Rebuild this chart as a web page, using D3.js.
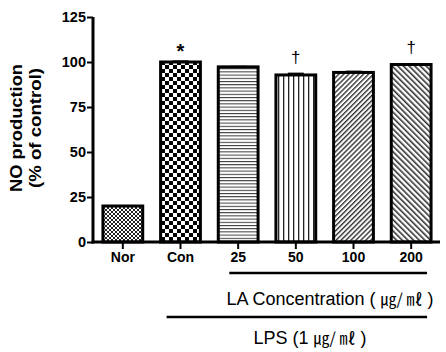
<!DOCTYPE html>
<html>
<head>
<meta charset="utf-8">
<script src="https://cdn.jsdelivr.net/npm/d3@7"></script>
<style>
  body { margin: 0; background: #fff; }
  text { font-family: "Liberation Sans", Arial, sans-serif; font-weight: bold; }
  .cjk { font-family: "Noto Sans CJK KR", "Noto Sans CJK SC", sans-serif; }
</style>
</head>
<body>
<div id="chart"></div>
<script>
// data
const groups = ["Nor", "Con", "25", "50", "100", "200"]
const values = [20, 100, 97.3, 92.8, 94.2, 98.6]
const errors = [0, 0.9, 0.6, 1.3, 1.0, 0.8]
const marks = ["", "*", "", "†", "", "†"]
const yTicks = [0, 25, 50, 75, 100, 125]
const patterns = ["fineChecker", "checker", "hLines", "vLines", "diagUp", "diagDown"]

const width = 446
const height = 352
const margin = { top: 17, right: 6, bottom: 110, left: 93 }
const boundedWidth = width - margin.left - margin.right
const boundedHeight = height - margin.top - margin.bottom

const svg = d3.select("#chart").append("svg")
  .attr("width", width)
  .attr("height", height)

// fill patterns
const defs = svg.append("defs")

const fineChecker = defs.append("pattern").attr("id", "fineChecker")
  .attr("patternUnits", "userSpaceOnUse").attr("width", 4).attr("height", 4)
fineChecker.append("rect").attr("width", 4).attr("height", 4).attr("fill", "#fff")
fineChecker.append("rect").attr("width", 2).attr("height", 2).attr("fill", "#222")
fineChecker.append("rect").attr("x", 2).attr("y", 2).attr("width", 2).attr("height", 2).attr("fill", "#222")

const checker = defs.append("pattern").attr("id", "checker")
  .attr("patternUnits", "userSpaceOnUse").attr("width", 8).attr("height", 8)
checker.append("rect").attr("width", 8).attr("height", 8).attr("fill", "#fff")
checker.append("rect").attr("width", 4).attr("height", 4).attr("fill", "#000")
checker.append("rect").attr("x", 4).attr("y", 4).attr("width", 4).attr("height", 4).attr("fill", "#000")

const hLines = defs.append("pattern").attr("id", "hLines")
  .attr("patternUnits", "userSpaceOnUse").attr("width", 4).attr("height", 3.2)
hLines.append("rect").attr("width", 4).attr("height", 3.2).attr("fill", "#fff")
hLines.append("rect").attr("width", 4).attr("height", 1).attr("fill", "#333")

const vLines = defs.append("pattern").attr("id", "vLines")
  .attr("patternUnits", "userSpaceOnUse").attr("width", 5).attr("height", 4)
vLines.append("rect").attr("width", 5).attr("height", 4).attr("fill", "#fff")
vLines.append("rect").attr("width", 1.3).attr("height", 4).attr("fill", "#222")

const diagUp = defs.append("pattern").attr("id", "diagUp")
  .attr("patternUnits", "userSpaceOnUse").attr("width", 3.5).attr("height", 3.5)
  .attr("patternTransform", "rotate(45)")
diagUp.append("rect").attr("width", 3.5).attr("height", 3.5).attr("fill", "#fff")
diagUp.append("rect").attr("width", 1.4).attr("height", 3.5).attr("fill", "#333")

const diagDown = defs.append("pattern").attr("id", "diagDown")
  .attr("patternUnits", "userSpaceOnUse").attr("width", 4).attr("height", 4)
  .attr("patternTransform", "rotate(-45)")
diagDown.append("rect").attr("width", 4).attr("height", 4).attr("fill", "#fff")
diagDown.append("rect").attr("width", 1.6).attr("height", 4).attr("fill", "#333")

const bounds = svg.append("g")
  .attr("transform", `translate(${margin.left}, ${margin.top})`)

const xScale = d3.scaleBand()
  .domain(groups)
  .range([1, boundedWidth])
  .paddingInner(0.31)
  .paddingOuter(0.155)

const yScale = d3.scaleLinear()
  .domain([0, 125])
  .range([boundedHeight, 0])

// bars
const rows = groups.map((g, i) => ({ g, v: values[i], e: errors[i], m: marks[i], p: patterns[i] }))

bounds.selectAll(".err")
  .data(rows.filter(d => d.e > 0))
  .join("rect")
    .attr("class", "err")
    .attr("x", d => xScale(d.g) + xScale.bandwidth() * 0.3)
    .attr("y", d => yScale(d.v + d.e))
    .attr("width", xScale.bandwidth() * 0.4)
    .attr("height", d => yScale(d.v) - yScale(d.v + d.e) + 1)
    .attr("fill", "#000")

bounds.selectAll(".bar")
  .data(rows)
  .join("rect")
    .attr("class", "bar")
    .attr("x", d => xScale(d.g))
    .attr("y", d => yScale(d.v))
    .attr("width", xScale.bandwidth())
    .attr("height", d => boundedHeight - yScale(d.v))
    .attr("fill", d => `url(#${d.p})`)
    .attr("stroke", "#000")
    .attr("stroke-width", 3)

bounds.selectAll(".mark")
  .data(rows.filter(d => d.m))
  .join("text")
    .attr("class", "mark")
    .attr("x", d => xScale(d.g) + xScale.bandwidth() / 2)
    .attr("y", d => yScale(d.v + d.e) - (d.m === "*" ? 17 : 10))
    .attr("text-anchor", "middle")
    .attr("dominant-baseline", d => d.m === "*" ? "hanging" : "auto")
    .style("font-size", d => d.m === "*" ? "20px" : "17px")
    .style("font-weight", d => d.m === "*" ? "bold" : "normal")
    .text(d => d.m)

// axes
const yAxis = bounds.append("g")
  .call(d3.axisLeft(yScale).tickValues(yTicks).tickSize(6).tickPadding(1))
yAxis.select(".domain").attr("stroke-width", 3).attr("d", `M0,${boundedHeight + 1.5}V0`)
yAxis.selectAll(".tick line").attr("stroke-width", 2)
yAxis.selectAll(".tick text").style("font-size", "14.5px").style("font-family", "Liberation Sans, Arial, sans-serif").style("font-weight", "bold").attr("fill", "#000")

const xAxis = bounds.append("g")
  .attr("transform", `translate(0, ${boundedHeight})`)
  .call(d3.axisBottom(xScale).tickSize(7).tickPadding(3))
xAxis.select(".domain").attr("stroke-width", 3).attr("d", `M-1.5,0H${boundedWidth}`)
xAxis.selectAll(".tick line").attr("stroke-width", 2)
xAxis.selectAll(".tick text").style("font-size", "14px").style("font-family", "Liberation Sans, Arial, sans-serif").style("font-weight", "bold").attr("fill", "#000")

// y title
const yTitle = svg.append("text")
  .attr("transform", `translate(22, 128) rotate(-90)`)
  .attr("text-anchor", "middle")
  .style("font-size", "17px")
yTitle.append("tspan").attr("x", 0).attr("dy", 0)
  .attr("textLength", 128).attr("lengthAdjust", "spacingAndGlyphs").text("NO production")
yTitle.append("tspan").attr("x", 0).attr("dy", 19)
  .attr("textLength", 120).attr("lengthAdjust", "spacingAndGlyphs").text("(% of control)")

// group brackets
const firstLA = xScale("25") + margin.left + 11
const lastX = xScale("200") + xScale.bandwidth() + margin.left - 4
svg.append("line")
  .attr("x1", firstLA).attr("x2", lastX)
  .attr("y1", 273).attr("y2", 273)
  .attr("stroke", "#000").attr("stroke-width", 2.5)
const laLabel = svg.append("text")
  .attr("x", 330).attr("y", 305)
  .attr("text-anchor", "middle")
  .style("font-size", "18px")
  .style("font-weight", "normal")
laLabel.append("tspan").text("LA Concentration ( ")
laLabel.append("tspan").attr("class", "cjk").style("font-size", "16px").text("㎍/ ㎖")
laLabel.append("tspan").text(" )")

svg.append("line")
  .attr("x1", xScale("Con") + margin.left + 6).attr("x2", lastX)
  .attr("y1", 317).attr("y2", 317)
  .attr("stroke", "#000").attr("stroke-width", 2.5)
const lpsLabel = svg.append("text")
  .attr("x", 310).attr("y", 344)
  .attr("text-anchor", "middle")
  .style("font-size", "18px")
  .style("font-weight", "normal")
lpsLabel.append("tspan").text("LPS (1 ")
lpsLabel.append("tspan").attr("class", "cjk").style("font-size", "16px").text("㎍/ ㎖")
lpsLabel.append("tspan").text(" )")
</script>
</body>
</html>
